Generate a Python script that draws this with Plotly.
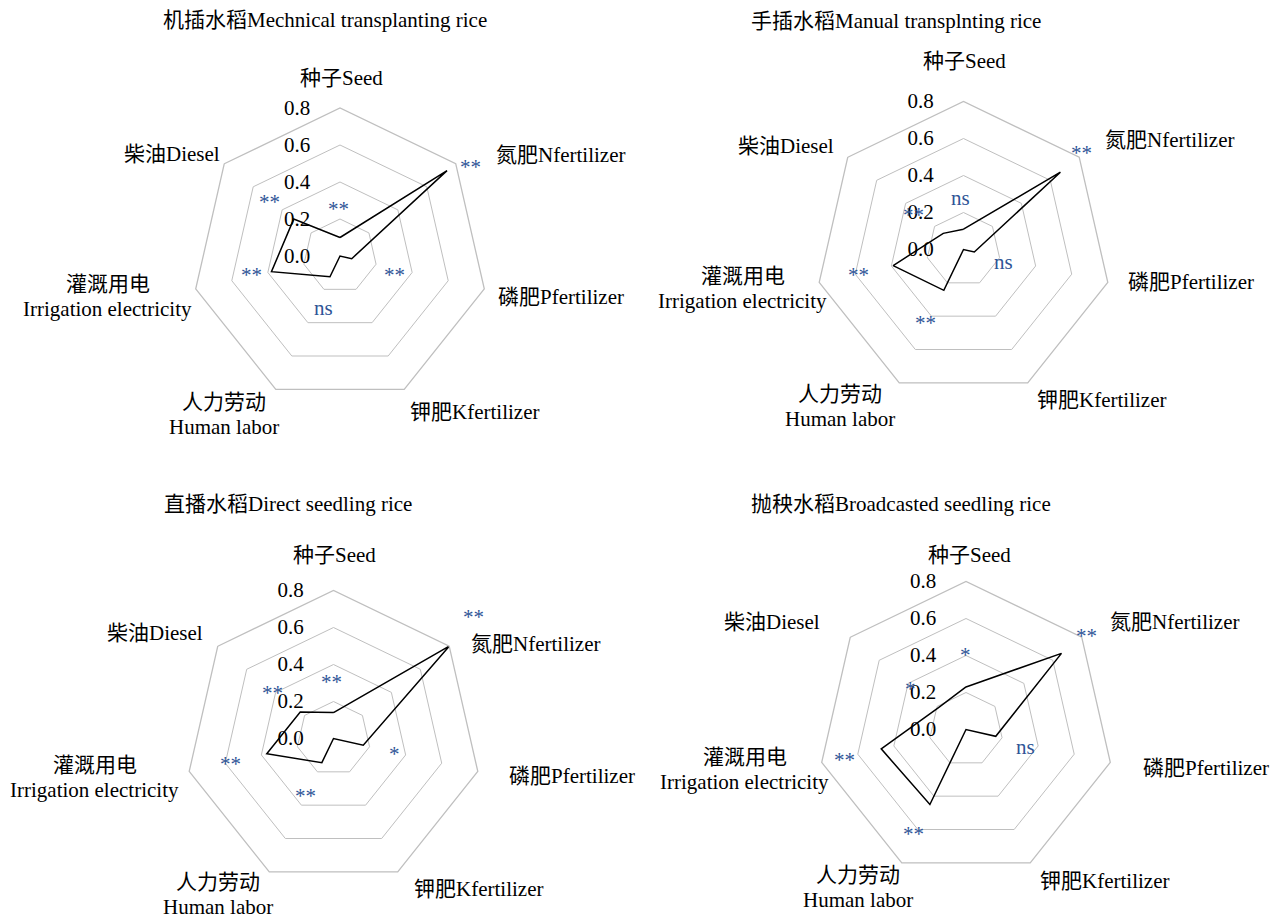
import plotly.graph_objects as go

W, H = 1277, 918
R = 148  # pixel radius of the 0.8 ring
LINE_GAP = 25  # pixel spacing of two-line axis labels

categories = ['种子Seed', '氮肥Nfertilizer', '磷肥Pfertilizer', '钾肥Kfertilizer',
              '人力劳动<br>Human labor', '灌溉用电<br>Irrigation electricity', '柴油Diesel']

titles = ['机插水稻Mechnical transplanting rice', '手插水稻Manual transplnting rice',
          '直播水稻Direct seedling rice', '抛秧水稻Broadcasted seedling rice']

# values (axis order as in categories)
mech_values = [0.10, 0.74, 0.065, -0.035, 0.125, 0.38, 0.32]
manual_values = [0.11, 0.67, 0.06, -0.08, 0.245, 0.39, 0.14]
direct_values = [0.14, 0.80, 0.165, -0.04, 0.145, 0.37, 0.23]
broadcast_values = [0.23, 0.66, 0.165, -0.13, 0.45, 0.47, 0.19]

# significance marks per axis
mech_sig = ['**', '**', '**', '', 'ns', '**', '**']
manual_sig = ['ns', '**', 'ns', '', '**', '**', '**']
direct_sig = ['**', '**', '*', '', '**', '**', '**']
broadcast_sig = ['*', '**', 'ns', '', '**', '**', '*']

radial_ticks = [0.0, 0.2, 0.4, 0.6, 0.8]
radial_ticktext = ['0.0', '0.2', '0.4', '0.6', '0.8']

FONT = "'Liberation Serif', 'Times New Roman', 'Noto Sans CJK SC', serif"
BLUE = '#2F5597'
GRID = '#BFBFBF'

panels = [
    dict(values=mech_values, sig=mech_sig, title=titles[0], center=(340, 256),
         title_xy=(325, 20),
         labels=[(341.7, 78.3, 'center'), (494, 155, 'left'), (496, 296.7, 'left'),
                 (408, 411.7, 'left'), (223.6, 414.2, 'center'), (107.5, 296.7, 'center'),
                 (221.5, 154, 'right')],
         sig_xy=[(338.3, 204), (470, 161.7), (394.3, 270), None, (323.3, 308.3),
                 (251, 270), (269.3, 196.7)]),
    dict(values=manual_values, sig=manual_sig, title=titles[1], center=(963.5, 249.5),
         title_xy=(896, 20.7),
         labels=[(964, 60.7, 'center'), (1102.8, 140, 'left'), (1126.2, 281.7, 'left'),
                 (1034.7, 400, 'left'), (840, 406.3, 'center'), (742.6, 288.8, 'center'),
                 (836.1, 146, 'right')],
         sig_xy=[(960, 198.3), (1081.7, 148.3), (1003.3, 261.7), None, (925, 318.3),
                 (858.3, 270), (913.3, 210)]),
    dict(values=direct_values, sig=direct_sig, title=titles[2], center=(333.5, 738.5),
         title_xy=(288, 504.3),
         labels=[(334.4, 555, 'center'), (469, 644, 'left'), (506.7, 776, 'left'),
                 (412.3, 889.3, 'left'), (217.8, 894.3, 'center'), (94.7, 777.8, 'center'),
                 (205.1, 633.3, 'right')],
         sig_xy=[(331, 676.7), (473.3, 612), (394, 749.3), None, (305, 791),
                 (230.7, 759), (272.7, 688.3)]),
    dict(values=broadcast_values, sig=broadcast_sig, title=titles[3], center=(966, 729.5),
         title_xy=(901, 504.3),
         labels=[(969, 555, 'center'), (1107.7, 621.7, 'left'), (1141.3, 768.3, 'left'),
                 (1038, 880.7, 'left'), (857.8, 887.3, 'center'), (744.5, 769.7, 'center'),
                 (821.7, 621.7, 'right')],
         sig_xy=[(965.7, 650), (1086.7, 631), (1025, 746.7), None, (913.3, 829.3),
                 (845, 755), (910.7, 684.3)]),
]


def px(x, y):
    return x / W, 1 - y / H


def text_note(x, y, text, anchor='center', color='black', size=21):
    ax_, ay_ = px(x, y)
    return dict(x=ax_, y=ay_, xref='paper', yref='paper', text=text,
                showarrow=False, xanchor=anchor, yanchor='middle',
                font=dict(family=FONT, size=size, color=color))


fig = go.Figure()
annotations = []

for i, p in enumerate(panels):
    name = 'polar' if i == 0 else f'polar{i + 1}'
    cx, cy = p['center']
    fig.add_trace(go.Scatterpolar(
        r=p['values'] + p['values'][:1],
        theta=categories + categories[:1],
        mode='lines',
        line=dict(color='black', width=1.5),
        subplot=name,
        showlegend=False,
        hoverinfo='skip',
    ))
    fig.layout[name] = dict(
        domain=dict(x=[(cx - R) / W, (cx + R) / W], y=[1 - (cy + R) / H, 1 - (cy - R) / H]),
        gridshape='linear',
        bgcolor='white',
        radialaxis=dict(
            range=[0, 0.8], tickvals=radial_ticks, ticktext=radial_ticktext,
            angle=90, side='counterclockwise', tickangle=90,
            ticks='outside', ticklen=22, tickcolor='rgba(0,0,0,0)',
            showline=False, gridcolor=GRID, gridwidth=1.3,
            tickfont=dict(family=FONT, size=21, color='black'),
        ),
        angularaxis=dict(
            categoryarray=categories, type='category',
            rotation=90, direction='clockwise',
            showgrid=False, showticklabels=False, ticks='',
            showline=True, linecolor=GRID, linewidth=1.3,
        ),
    )

    annotations.append(text_note(*p['title_xy'], p['title']))

    # axis labels; two-line ones are split so the line spacing matches
    for label, (lx, ly, anchor) in zip(categories, p['labels']):
        lines = label.split('<br>')
        top = ly - LINE_GAP * (len(lines) - 1) / 2
        for k, line in enumerate(lines):
            annotations.append(text_note(lx, top + k * LINE_GAP, line, anchor))

    for mark, pos in zip(p['sig'], p['sig_xy']):
        if not mark or pos is None:
            continue
        sx, sy = pos
        # asterisks sit high in the text box, so shift the box down a little
        if '*' in mark:
            sy += 5
        annotations.append(text_note(sx, sy, mark, color=BLUE))

fig.update_layout(
    width=W, height=H,
    margin=dict(l=0, r=0, t=0, b=0),
    paper_bgcolor='white',
    plot_bgcolor='white',
    annotations=annotations,
    showlegend=False,
)

# drop the default 8px body margin so the figure fills the window exactly
fig.write_html("out.html", config={'displayModeBar': False},
               post_script="document.body.style.margin='0';")
